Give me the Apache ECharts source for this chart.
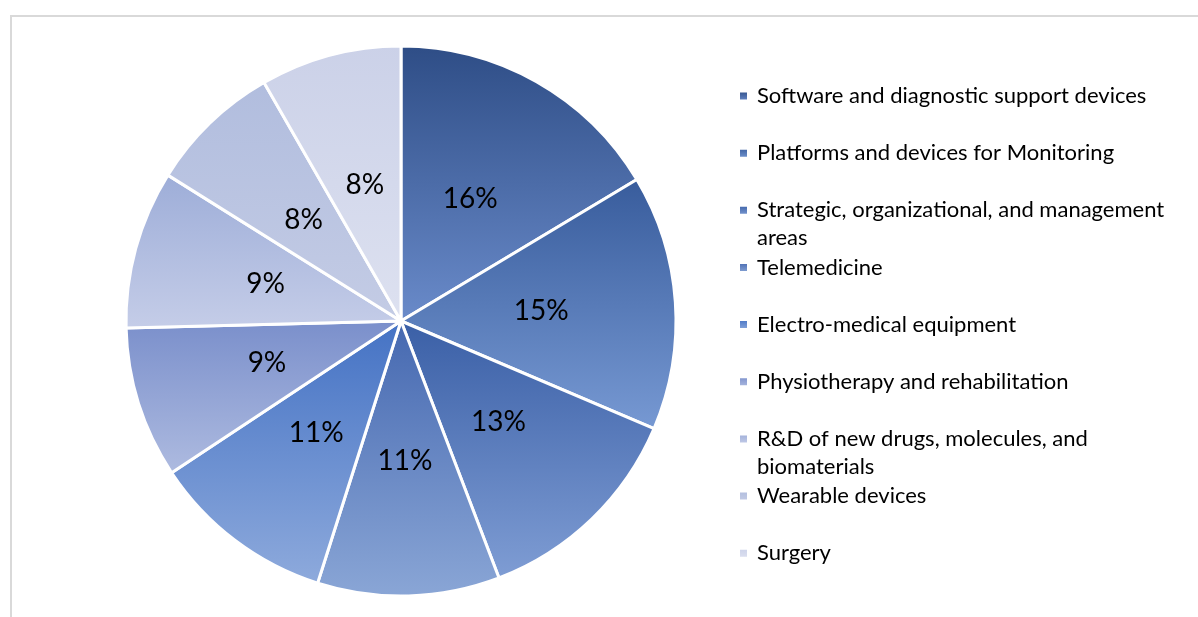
<!DOCTYPE html>
<html>
<head>
<meta charset="utf-8">
<script src="https://cdn.jsdelivr.net/npm/echarts@6/dist/echarts.min.js"></script>
<style>
  html, body { margin: 0; padding: 0; background: #fff; }
  #chart { width: 1198px; height: 617px; }
</style>
</head>
<body>
<div id="chart"></div>
<script>
  // share of projects per area (%), clockwise from 12 o'clock
  const categories = [
    'Software and diagnostic support devices',
    'Platforms and devices for Monitoring',
    'Strategic, organizational, and management areas',
    'Telemedicine',
    'Electro-medical equipment',
    'Physiotherapy and rehabilitation',
    'R&D of new drugs, molecules, and biomaterials',
    'Wearable devices',
    'Surgery'
  ];
  const shares = [16.4, 15.0, 12.8, 10.7, 10.8, 8.9, 9.3, 7.8, 8.3];

  // top / bottom colour of each slice gradient
  const topColors = ['#2E4D86', '#385C9C', '#3A5FA6', '#4568B0', '#4472C4', '#7A8FCB', '#9DADD8', '#B1BDDE', '#CBD1E8'];
  const bottomColors = ['#6A8BCA', '#7799D3', '#7F9DD4', '#8AA6D6', '#8EAADC', '#AEBBE0', '#C5CDE8', '#C4CCE5', '#DDE1F0'];

  // how the long legend names wrap (leading blank line keeps line 1 beside the marker)
  const wrapAt = {
    'Strategic, organizational, and management areas': '\nStrategic, organizational, and management\nareas',
    'R&D of new drugs, molecules, and biomaterials': '\nR&D of new drugs, molecules, and\nbiomaterials'
  };

  const chart = echarts.init(document.getElementById('chart'));
  const font = 'Lato, "Open Sans", sans-serif';

  const pieData = categories.map((name, i) => ({
    name: name,
    value: shares[i],
    itemStyle: {
      color: new echarts.graphic.LinearGradient(0, 0, 0, 1, [
        { offset: 0, color: topColors[i] },
        { offset: 1, color: bottomColors[i] }
      ])
    }
  }));

  const pitch = 57.15;
  const legends = categories.map((name, i) => {
    const twoLines = !!wrapAt[name];
    const mid = 96 + pitch * i;
    return {
      orient: 'vertical',
      left: 738,
      top: twoLines ? mid - 42 : mid - 14,
      padding: 0,
      selectedMode: false,
      icon: 'rect',
      itemWidth: 9,
      itemHeight: 9,
      data: [name],
      formatter: n => wrapAt[n] || n,
      textStyle: {
        fontFamily: font,
        fontSize: 22,
        color: '#000',
        lineHeight: 28,
        padding: [0, 0, 0, 4]
      }
    };
  });

  chart.setOption({
    animation: false,
    backgroundColor: '#fff',
    graphic: [{
      type: 'rect',
      shape: { x: 11, y: 16, width: 1300, height: 800 },
      style: { fill: 'none', stroke: '#D9D9D9', lineWidth: 2 },
      silent: true
    }],
    legend: legends,
    series: [{
      type: 'pie',
      center: [401, 321],
      radius: [0, 275],
      startAngle: 90,
      clockwise: true,
      avoidLabelOverlap: false,
      label: {
        show: true,
        position: 'inside',
        formatter: p => Math.round(p.value) + '%',
        fontFamily: font,
        fontSize: 28,
        color: '#000'
      },
      labelLine: { show: false },
      itemStyle: { borderColor: '#fff', borderWidth: 3 },
      emphasis: { disabled: true },
      data: pieData
    }]
  });
</script>
</body>
</html>
